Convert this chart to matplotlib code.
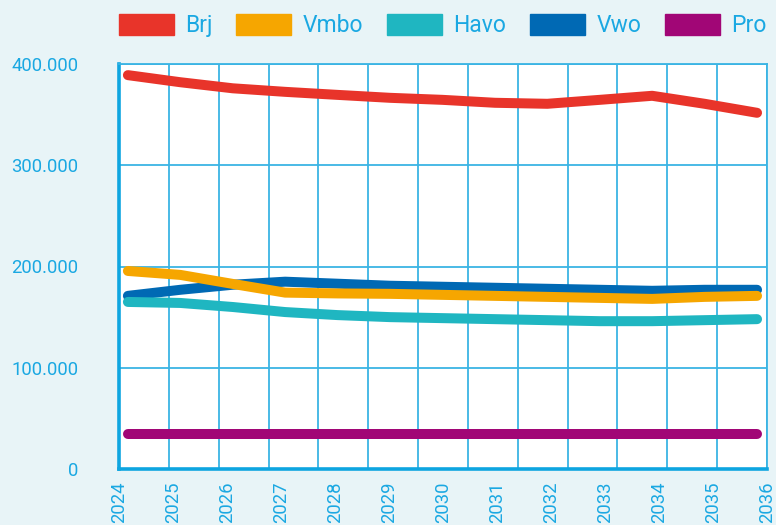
import numpy as np
import matplotlib
matplotlib.use("Agg")
import matplotlib.pyplot as plt
from matplotlib.patches import Rectangle
from matplotlib.ticker import FuncFormatter

years = list(range(2024, 2037))
brj = [389000, 382000, 376000, 372500, 369500, 366600, 364600, 361700, 360700, 364600, 368600, 360700, 351800]
vmbo = [195600, 191700, 182800, 174200, 173400, 173000, 172000, 171000, 170000, 169000, 168000, 170000, 171000]
havo = [165000, 164000, 160000, 155000, 152000, 150000, 149000, 148000, 147000, 146000, 146000, 147000, 148000]
vwo = [171000, 177000, 182000, 185000, 183000, 181000, 180000, 179000, 178000, 177000, 176000, 177000, 177000]
pro = [34300] * 13

series = ["Brj", "Vmbo", "Havo", "Vwo", "Pro"]
colors = {"Brj": "#e8342a", "Vmbo": "#f6a600", "Havo": "#1fb6c1",
          "Vwo": "#0069b4", "Pro": "#a10676"}
values = {"Brj": brj, "Vmbo": vmbo, "Havo": havo, "Vwo": vwo, "Pro": pro}
draw_order = ["Brj", "Vwo", "Vmbo", "Havo", "Pro"]

txt = "#1aa8e2"
grid_col = "#3ab4e4"
plt.rcParams['font.family'] = ['Roboto', 'DejaVu Sans']

fig = plt.figure(figsize=(7.76, 5.25), dpi=100, facecolor="#e8f4f7")
ax = fig.add_axes([119 / 776, 56 / 525, 648 / 776, 405 / 525])
ax.set_facecolor("white")

for i, name in enumerate(draw_order):
    ax.plot(years, values[name], color=colors[name], lw=7.2,
            solid_capstyle="round", solid_joinstyle="round", zorder=3 + i)

x0, x1 = 2023.83, 2036.19
ax.set_xlim(x0, x1)
ax.set_ylim(0, 400000)

# grid: 13 columns across the plot, labels spread over full width
for gx in np.linspace(x0, x1, 14):
    ax.axvline(gx, color=grid_col, lw=1.3, zorder=1)
ax.set_yticks([0, 100000, 200000, 300000, 400000])
ax.yaxis.set_major_formatter(FuncFormatter(lambda v, p: "0" if v == 0 else f"{int(v):,}".replace(",", ".")))
ax.grid(axis="y", color=grid_col, lw=1.3, zorder=1)

ax.set_xticks(np.linspace(x0, x1, 13))
ax.set_xticklabels([str(y) for y in years], rotation=90, va="top")

ax.tick_params(axis="both", length=0, colors=txt, labelsize=13.3)
ax.tick_params(axis="y", pad=29)
ax.tick_params(axis="x", pad=9)

for s in ["top", "right"]:
    ax.spines[s].set_color(grid_col)
    ax.spines[s].set_linewidth(1.3)
for s in ["left", "bottom"]:
    ax.spines[s].set_color("#0ea5e0")
    ax.spines[s].set_linewidth(2.6)

handles = [Rectangle((0, 0), 1, 1, color=colors[n]) for n in series]
leg = fig.legend(handles, series, loc="upper left", bbox_to_anchor=(105 / 776, 1.0),
                 ncol=5, frameon=False, fontsize=16.5, handlelength=2.4,
                 handleheight=1.05, handletextpad=0.5, columnspacing=1.03,
                 borderaxespad=0.2)
for t in leg.get_texts():
    t.set_color(txt)

fig.savefig("out.png", dpi=100, facecolor=fig.get_facecolor())
